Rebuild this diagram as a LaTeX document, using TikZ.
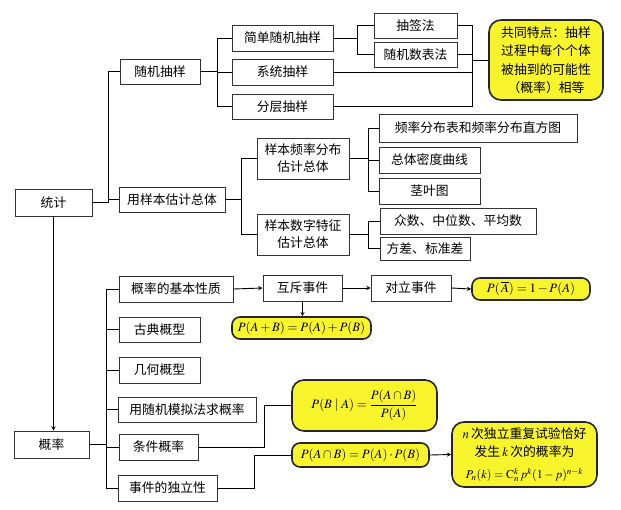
\documentclass[tikz,border=0pt]{standalone}
\usepackage{mathptmx}
\usepackage{fontspec}
\newfontfamily\cjk{Noto Sans CJK SC}
\usetikzlibrary{positioning}
\tikzset{every picture/.style={line width=0.9pt}}
\definecolor{hlyellow}{RGB}{248,244,44}
\tikzset{
  box/.style={draw=black!80, inner sep=1pt, align=center},
  ybox/.style={draw=black!85, line width=1.6pt, fill=hlyellow, rounded corners=8pt, inner sep=1pt, align=center},
}

\begin{document}
\begin{tikzpicture}[x=1pt, y=-1pt, >=stealth, every node/.style={font=\cjk\fontsize{12.8}{17}\selectfont}]
\useasboundingbox (0,0) rectangle (621,509);
% statistics branch
\node[box, minimum width=77, minimum height=27] (tj) at (53.5,202.5) {统计};
\node[box, minimum width=80, minimum height=25] (sj) at (160,71.5) {随机抽样};
\node[box, minimum width=106, minimum height=25] (yb) at (172,199.5) {用样本估计总体};
\node[box, minimum width=101, minimum height=26] (jd) at (282.5,38) {简单随机抽样};
\node[box, minimum width=101, minimum height=26] (xt) at (282.5,72) {系统抽样};
\node[box, minimum width=101, minimum height=25] (fc) at (282.5,106.5) {分层抽样};
\node[box, minimum width=83, minimum height=25] (cq) at (415.5,25.5) {抽签法};
\node[box, minimum width=83, minimum height=25] (sjb) at (415.5,54.5) {随机数表法};
\node[ybox, rounded corners=12pt, minimum width=114, minimum height=80, font=\cjk\fontsize{12.8}{18.5}\selectfont] (gt) at (546,60)
  {共同特点：抽样\\过程中每个个体\\被抽到的可能性\\（概率）相等};
\coordinate (hj) at (472,60);
\node[box, minimum width=92, minimum height=41] (pl) at (303,158.5) {样本频率分布\\估计总体};
\node[box, minimum width=92, minimum height=41] (sz) at (303,234.5) {样本数字特征\\估计总体};
\node[box, minimum width=198, minimum height=28] (zft) at (478,128) {频率分布表和频率分布直方图};
\node[box, minimum width=101, minimum height=26] (md) at (429.5,160) {总体密度曲线};
\node[box, minimum width=101, minimum height=26] (jy) at (429.5,191) {茎叶图};
\node[box, minimum width=156, minimum height=26] (zs) at (458,221) {众数、中位数、平均数};
\node[box, minimum width=90, minimum height=23] (fcb) at (425,248.5) {方差、标准差};

\draw (tj.east) -- ++(16,0) |- (sj.west);
\draw (tj.east) -- ++(16,0) |- (yb.west);
\draw (sj.east) -- ++(17,0) |- (jd.west);
\draw (sj.east) -- ++(17,0) |- (xt.west);
\draw (sj.east) -- ++(17,0) |- (fc.west);
\draw (jd.east) -- ++(24,0) |- (cq.west);
\draw (jd.east) -- ++(24,0) |- (sjb.west);
\draw (cq.east) -| (hj); \draw (sjb.east) -| (hj);
\draw (xt.east) -| (hj); \draw (fc.east) -| (hj);
\draw (hj) -- (gt.west);
\draw (yb.east) -- ++(16,0) |- (pl.west);
\draw (yb.east) -- ++(16,0) |- (sz.west);
\draw (pl.east) -- ++(19,0) |- (zft.west);
\draw (pl.east) -- ++(19,0) |- (md.west);
\draw (pl.east) -- ++(19,0) |- (jy.west);
\draw (sz.east) -- ++(19,0) |- (zs.west);
\draw (sz.east) -- ++(19,0) |- (fcb.west);

% probability branch
\node[box, minimum width=75, minimum height=27] (gl) at (51.5,444.5) {概率};
\node[box, minimum width=114, minimum height=26] (jb) at (176,289) {概率的基本性质};
\node[box, minimum width=81, minimum height=25] (gd) at (159.5,329.5) {古典概型};
\node[box, minimum width=81, minimum height=26] (jh) at (159.5,370) {几何概型};
\node[box, minimum width=138, minimum height=25] (mn) at (187,409.5) {用随机模拟法求概率};
\node[box, minimum width=79, minimum height=26] (tjg) at (158.5,447) {条件概率};
\node[box, minimum width=99, minimum height=26] (dl) at (167.5,488) {事件的独立性};
\node[box, minimum width=79, minimum height=26] (hc) at (302.5,288) {互斥事件};
\node[box, minimum width=80, minimum height=26] (dlsj) at (411,288) {对立事件};
\node[ybox, minimum width=118, minimum height=22] (pa) at (531,289) {$P(\,\overline{A})=1-P(A)$};
\node[ybox, minimum width=139, minimum height=22] (pab) at (301.5,328) {$P(A+B)=P(A)+P(B)$};
\node[ybox, rounded corners=12pt, minimum width=145, minimum height=51] (pba) at (364.5,405.5) {$P(B\mid A)=\displaystyle\frac{P(A\cap B)}{P(A)}$};
\node[ybox, minimum width=137, minimum height=24] (pand) at (360.5,455) {$P(A\cap B)=P(A)\cdot P(B)$};
\node[ybox, rounded corners=12pt, minimum width=145, minimum height=65, font=\cjk\fontsize{12.8}{18}\selectfont] (nc) at (524.5,454.5)
  {$n$\,次独立重复试验恰好\\发生\,$k$\,次的概率为\\[4pt]{\fontsize{12}{14}\selectfont$P_n(k)=\mathrm{C}_n^k\,p^k(1-p)^{n-k}$}};

\draw[->] (tj.south) -- (tj.south |- gl.north);
\draw (gl.east) -- ++(17,0) |- (jb.west);
\draw (gl.east) -- ++(17,0) |- (gd.west);
\draw (gl.east) -- ++(17,0) |- (jh.west);
\draw (gl.east) -- ++(17,0) |- (mn.west);
\draw (gl.east) -- ++(17,0) |- (tjg.west);
\draw (gl.east) -- ++(17,0) |- (dl.west);
\draw[->] (jb.east) -- (hc.west);
\draw[->] (hc.east) -- (dlsj.west);
\draw[->] (dlsj.east) -- (pa.west);
\draw[->] (hc.south) -- (hc.south |- pab.north);
\draw (tjg.east) -- ++(66,0) |- (pba.west);
\draw (dl.east) -- ++(37,0) |- (pand.west);
\draw[->] (pand.east) -- (nc.west);
\end{tikzpicture}
\end{document}
